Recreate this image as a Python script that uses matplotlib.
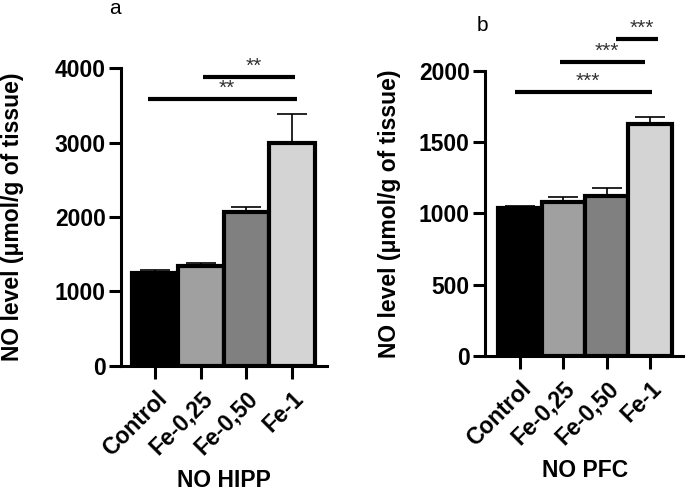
import matplotlib
matplotlib.use("Agg")
import matplotlib.pyplot as plt

plt.rcParams['font.family'] = ['Liberation Sans', 'DejaVu Sans']

GROUPS = ["Control", "Fe-0,25", "Fe-0,50", "Fe-1"]
COLORS = ["#000000", "#a0a0a0", "#808080", "#d4d4d4"]

HIPP_MEAN = [1250, 1340, 2070, 2990]
HIPP_ERR = [40, 40, 60, 390]
PFC_MEAN = [1035, 1080, 1125, 1630]
PFC_ERR = [15, 35, 55, 45]

# significance bars: (x start, x end, y level, label)
HIPP_SIG = [(1.05, 3.06, 3880, "**"), (-0.15, 3.11, 3585, "**")]
PFC_SIG = [(2.22, 3.19, 2225, "***"), (0.92, 2.88, 2060, "***"), (-0.12, 3.04, 1850, "***")]

HIPP_TICKS = [0, 1000, 2000, 3000, 4000]
PFC_TICKS = [0, 500, 1000, 1500, 2000]

FS = 16.5


def draw_panel(ax, means, errs, sig, ticks, xlabel, star_off, ylpad):
    x = list(range(len(GROUPS)))
    ax.bar(x, means, width=1.0, color=COLORS, edgecolor="black", linewidth=3.0, zorder=2)
    ax.errorbar(x, means, yerr=[[0] * len(errs), errs], fmt="none", ecolor="black",
                elinewidth=1.2, capsize=11, capthick=1.2, zorder=1)
    ax.set_xlim(-0.75, 3.77)
    ax.set_ylim(0, ticks[-1])
    ax.set_yticks(ticks)
    ax.set_xticks(x)
    ax.set_xticklabels(GROUPS, rotation=45, ha="right", rotation_mode="anchor",
                       fontsize=FS, fontweight="bold")
    for lab in ax.get_yticklabels():
        lab.set_fontweight("bold")
        lab.set_fontsize(FS)
    ax.tick_params(width=2.2, length=9, direction="out")
    ax.tick_params(axis="x", pad=6)
    ax.tick_params(axis="y", pad=2)
    for side in ("top", "right"):
        ax.spines[side].set_visible(False)
    for side in ("left", "bottom"):
        ax.spines[side].set_linewidth(2.2)
    ax.set_ylabel("NO level (μmol/g of tissue)", fontsize=FS, fontweight="bold", labelpad=ylpad)
    ax.set_xlabel(xlabel, fontsize=FS, fontweight="bold", labelpad=6)
    for x0, x1, y, lab in sig:
        ax.plot([x0, x1], [y, y], color="black", linewidth=3.0, clip_on=False,
                solid_capstyle="butt")
        ax.text((x0 + x1) / 2 + 0.1, y + star_off, lab, ha="center", va="bottom",
                fontsize=15, color="#333333", clip_on=False)


fig = plt.figure(figsize=(6.85, 4.96), dpi=100)
ax1 = fig.add_axes([0.1766, 0.2621, 0.3007, 0.6008])
ax2 = fig.add_axes([0.708, 0.2823, 0.292, 0.5746])

draw_panel(ax1, HIPP_MEAN, HIPP_ERR, HIPP_SIG, HIPP_TICKS, "NO HIPP", 20, 22)
draw_panel(ax2, PFC_MEAN, PFC_ERR, PFC_SIG, PFC_TICKS, "NO PFC", 10, 13)
ax2.set_xlim(-0.8, 3.8)

ax1.text(-0.03, 1.18, "a", transform=ax1.transAxes, fontsize=15, ha="center", va="baseline")
ax2.text(-0.015, 1.14, "b", transform=ax2.transAxes, fontsize=15, ha="center", va="baseline")

fig.savefig("out.png", dpi=100)
